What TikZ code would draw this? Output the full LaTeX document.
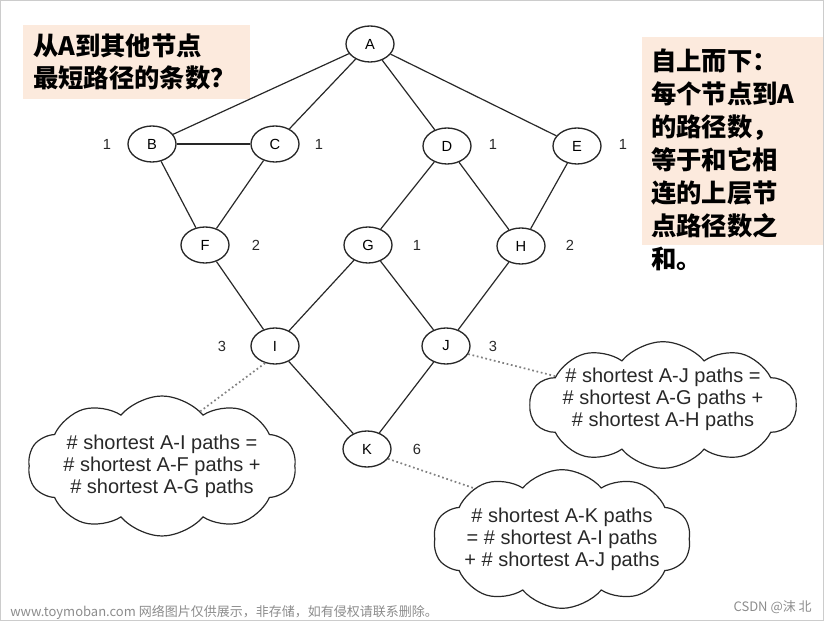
\documentclass[tikz,border=0pt]{standalone}
\usepackage{fontspec}
\setmainfont{Liberation Sans}
\newfontfamily\cjk{Noto Sans CJK SC}
\usetikzlibrary{shapes.geometric,shapes.symbols}
\definecolor{peach}{RGB}{252,234,221}
\definecolor{ink}{RGB}{40,40,40}
\begin{document}
\begin{tikzpicture}[x=0.75pt,y=-0.75pt,
  vertex/.style={ellipse, draw=ink, line width=1pt, minimum width=36pt, minimum height=27pt, inner sep=0pt, font=\fontsize{11}{12}\selectfont},
  count/.style={text=ink, font=\fontsize{11}{12}\selectfont},
  bubble/.style={cloud, cloud puffs=10, cloud puff arc=100, cloud ignores aspect, draw=ink, line width=0.9pt, inner sep=0pt},
  bubbletext/.style={align=center, inner sep=0pt, text=ink, font=\fontsize{15}{16.5}\selectfont},
  link/.style={draw=ink, line width=0.9pt},
  hint/.style={draw=gray, dotted, line width=1.3pt}]
\useasboundingbox (0,0) rectangle (827,623);
\draw[black!20] (0.5,0.5) rectangle (823,620);

\node[fill=peach, anchor=north west, text width=155pt, inner xsep=7.5pt, minimum height=55.5pt, align=left,
  font=\cjk\bfseries\fontsize{19}{24}\selectfont] (ask) at (23,25) {从A到其他节点\\最短路径的条数？};
\fill[peach] (642,37) rectangle (823,245);
\node[anchor=north west, inner sep=0pt, align=left, font=\cjk\bfseries\fontsize{19}{24.75}\selectfont] (rule) at (651,49)
  {自上而下：\\每个节点到A\\的路径数，\\等于和它相\\连的上层节\\点路径数之\\和。};

\node[vertex] (A) at (370,44) {A};
\node[vertex] (B) at (152,144) {B};
\node[vertex] (C) at (275,144) {C};
\node[vertex] (D) at (447,146) {D};
\node[vertex] (E) at (577,146) {E};
\node[vertex] (F) at (205,245) {F};
\node[vertex] (G) at (368,245) {G};
\node[vertex] (H) at (521,246) {H};
\node[vertex] (I) at (275,346) {I};
\node[vertex] (J) at (446,346) {J};
\node[vertex] (K) at (367,449) {K};

\node[count] (nB) at (107,144) {1};
\node[count] (nC) at (319,144) {1};
\node[count] (nD) at (493,144) {1};
\node[count] (nE) at (623,144) {1};
\node[count] (nF) at (256,245) {2};
\node[count] (nG) at (417,245) {1};
\node[count] (nH) at (570,245) {2};
\node[count] (nI) at (222,346) {3};
\node[count] (nJ) at (493,346) {3};
\node[count] (nK) at (417,449) {6};

\path[link] (A) edge (B) edge (C) edge (D) edge (E);
\path[link] (B) edge (C) edge (F);
\path[link] (C) edge (F);
\path[link] (D) edge (G) edge (H);
\path[link] (E) edge (H);
\path[link] (F) edge (I);
\path[link] (G) edge (I) edge (J);
\path[link] (H) edge (J);
\path[link] (I) edge (K);
\path[link] (J) edge (K);

\node[bubble, minimum width=201pt, minimum height=105pt] (cloudI) at (162,466) {};
\node[bubbletext] (tI) at (cloudI.center)
  {\# shortest A-I paths =\\\# shortest A-F paths +\\\# shortest A-G paths};
\node[bubble, minimum width=200pt, minimum height=95pt] (cloudJ) at (663,405) {};
\node[bubbletext] (tJ) at ([yshift=4.5pt]cloudJ.center)
  {\# shortest A-J paths =\\\# shortest A-G paths +\\\# shortest A-H paths};
\node[bubble, minimum width=193pt, minimum height=104pt] (cloudK) at (562,539) {};
\node[bubbletext] (tK) at (cloudK.center)
  {\# shortest A-K paths\\= \# shortest A-I paths\\+ \# shortest A-J paths};

\draw[hint] (I.240) -- (cloudI.55);
\draw[hint] (J.-20) -- (cloudJ.165);
\draw[hint] (K.-25) -- (cloudK.150);

\node[anchor=west, text=black!45, inner sep=0pt, font=\cjk\fontsize{9.75}{11}\selectfont] (mark) at (10,612)
  {www.toymoban.com 网络图片仅供展示，非存储，如有侵权请联系删除。};
\node[anchor=east, text=black!45, inner sep=0pt, font=\cjk\fontsize{9.75}{11}\selectfont] (csdn) at (812,607) {CSDN @沫 北};
\end{tikzpicture}
\end{document}
